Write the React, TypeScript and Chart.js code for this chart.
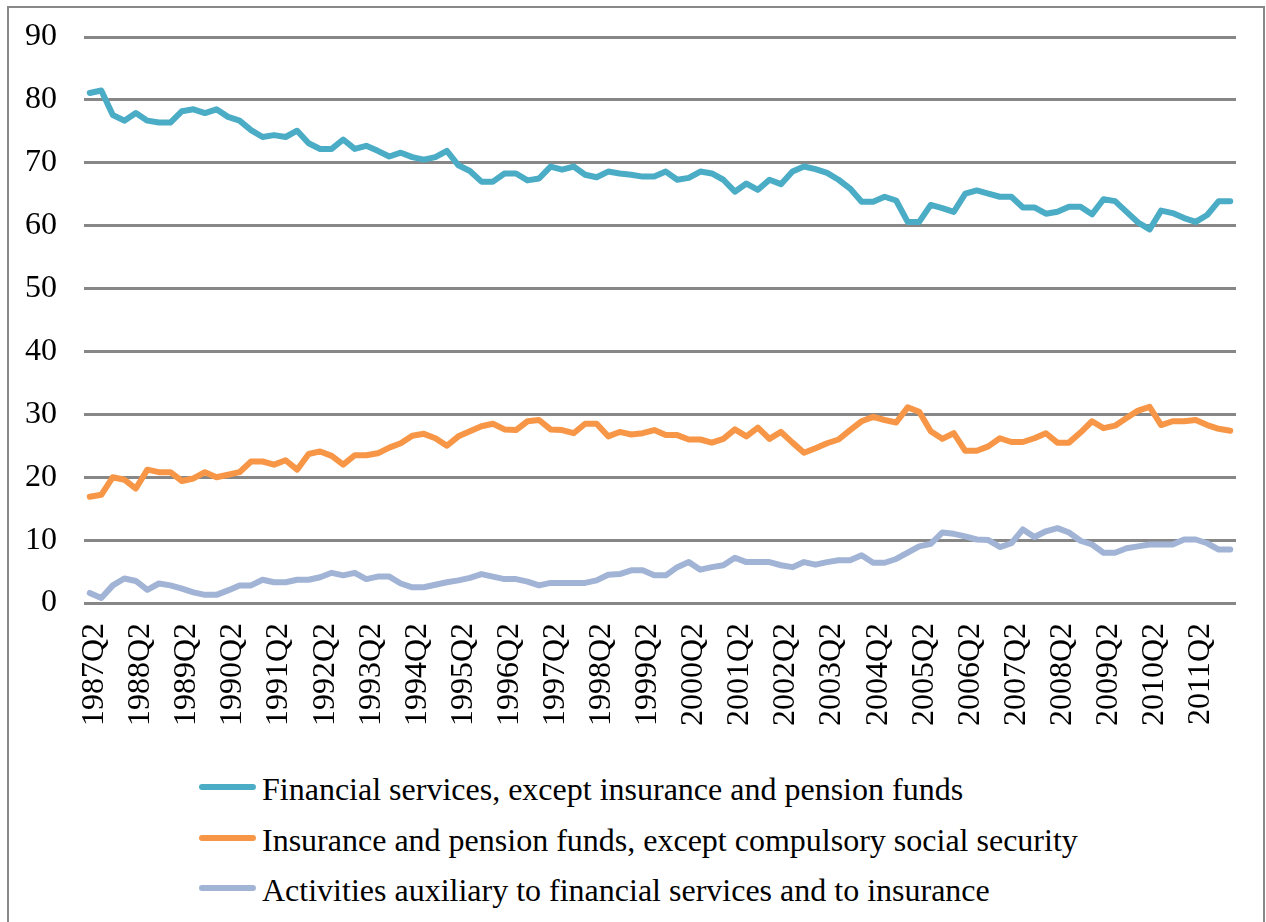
import React, { useEffect, useRef } from "react";
import { Chart, registerables } from "chart.js";

Chart.register(...registerables);

// ---- Data ----
const START_YEAR = 1987;
const START_QUARTER = 2;
const N_QUARTERS = 100;
const categories: string[] = [];
for (let k = 0; k < N_QUARTERS; k++) {
  const q = START_QUARTER - 1 + k;
  categories.push(`${START_YEAR + Math.floor(q / 4)}Q${(q % 4) + 1}`);
}

const seriesNames = [
  "Financial services, except insurance and pension funds",
  "Insurance and pension funds, except compulsory social security",
  "Activities auxiliary to financial services and to insurance",
];

const financialServices = [
  81.1, 81.5, 77.6, 76.7, 77.9, 76.7, 76.4, 76.4, 78.2, 78.5,
  77.9, 78.5, 77.3, 76.7, 75.2, 74.1, 74.4, 74.1, 75.1, 73.1,
  72.2, 72.2, 73.7, 72.2, 72.7, 71.9, 71.0, 71.6, 70.9, 70.5,
  70.9, 71.9, 69.6, 68.7, 67.0, 67.0, 68.3, 68.3, 67.2, 67.5,
  69.4, 68.9, 69.4, 68.1, 67.7, 68.6, 68.3, 68.1, 67.8, 67.8,
  68.6, 67.3, 67.6, 68.6, 68.3, 67.3, 65.4, 66.7, 65.7, 67.3,
  66.6, 68.6, 69.4, 69.0, 68.4, 67.3, 65.9, 63.8, 63.8, 64.6,
  64.0, 60.6, 60.6, 63.3, 62.8, 62.2, 65.1, 65.6, 65.1, 64.6,
  64.6, 62.9, 62.9, 61.9, 62.2, 63.0, 63.0, 61.8, 64.2, 63.9,
  62.2, 60.5, 59.4, 62.4, 62.0, 61.2, 60.6, 61.7, 63.9, 63.9,
];

const insurancePension = [
  16.9, 17.2, 20.0, 19.6, 18.2, 21.2, 20.8, 20.8, 19.4, 19.8,
  20.8, 20.0, 20.4, 20.8, 22.5, 22.5, 22.0, 22.7, 21.2, 23.7,
  24.1, 23.4, 22.0, 23.5, 23.5, 23.8, 24.7, 25.4, 26.6, 26.9,
  26.2, 25.0, 26.5, 27.3, 28.1, 28.5, 27.6, 27.5, 28.9, 29.1,
  27.6, 27.5, 27.0, 28.5, 28.5, 26.5, 27.2, 26.8, 27.0, 27.5,
  26.7, 26.7, 26.0, 26.0, 25.5, 26.1, 27.6, 26.5, 27.9, 26.1,
  27.2, 25.5, 23.9, 24.6, 25.4, 26.0, 27.5, 28.9, 29.6, 29.1,
  28.7, 31.1, 30.4, 27.3, 26.1, 27.0, 24.2, 24.2, 24.9, 26.2,
  25.6, 25.6, 26.2, 27.0, 25.5, 25.5, 27.1, 28.9, 27.8, 28.2,
  29.4, 30.6, 31.2, 28.3, 28.9, 28.9, 29.1, 28.3, 27.7, 27.4,
];

const auxiliaryActivities = [
  1.6, 0.8, 2.8, 3.9, 3.5, 2.1, 3.1, 2.8, 2.3, 1.7,
  1.3, 1.3, 2.0, 2.8, 2.8, 3.7, 3.3, 3.3, 3.7, 3.7,
  4.1, 4.8, 4.4, 4.8, 3.8, 4.2, 4.2, 3.1, 2.5, 2.5,
  2.9, 3.3, 3.6, 4.0, 4.6, 4.2, 3.8, 3.8, 3.4, 2.8,
  3.2, 3.2, 3.2, 3.2, 3.6, 4.5, 4.6, 5.2, 5.2, 4.4,
  4.4, 5.7, 6.5, 5.3, 5.7, 6.0, 7.2, 6.5, 6.5, 6.5,
  6.0, 5.7, 6.5, 6.1, 6.5, 6.8, 6.8, 7.6, 6.4, 6.4,
  7.0, 8.0, 9.0, 9.4, 11.2, 11.0, 10.6, 10.1, 10.0, 8.9,
  9.5, 11.7, 10.5, 11.4, 11.9, 11.2, 9.9, 9.3, 8.0, 8.0,
  8.7, 9.0, 9.3, 9.3, 9.3, 10.1, 10.1, 9.5, 8.5, 8.5,
];

const tickLabels = [
  "1987Q2", "1988Q2", "1989Q2", "1990Q2", "1991Q2", "1992Q2", "1993Q2",
  "1994Q2", "1995Q2", "1996Q2", "1997Q2", "1998Q2", "1999Q2", "2000Q2",
  "2001Q2", "2002Q2", "2003Q2", "2004Q2", "2005Q2", "2006Q2", "2007Q2",
  "2008Q2", "2009Q2", "2010Q2", "2011Q2",
];

const yTicks = [0, 10, 20, 30, 40, 50, 60, 70, 80, 90];

const seriesColors = ["#4BACC6", "#F79646", "#A2B4D5"];

const FONT_FAMILY = "'Liberation Serif', 'Times New Roman', serif";
const FONT_SIZE = 32;

export default function App() {
  const canvasRef = useRef<HTMLCanvasElement | null>(null);

  useEffect(() => {
    const canvas = canvasRef.current;
    if (!canvas) return;
    const allSeries = [financialServices, insurancePension, auxiliaryActivities];
    const chart = new Chart(canvas, {
      type: "line",
      data: {
        labels: categories,
        datasets: allSeries.map((d, i) => ({
          label: seriesNames[i],
          data: d,
          borderColor: seriesColors[i],
          backgroundColor: seriesColors[i],
          borderWidth: 6,
          pointRadius: 0,
          tension: 0,
          borderJoinStyle: "round" as const,
          borderCapStyle: "round" as const,
          fill: false,
        })),
      },
      options: {
        responsive: false,
        animation: false,
        events: [],
        layout: { padding: { top: 37, right: 30, bottom: 17, left: 0 } },
        plugins: {
          legend: { display: false },
          tooltip: { enabled: false },
          title: { display: false },
        },
        scales: {
          x: {
            type: "category",
            offset: true,
            grid: { display: false, drawTicks: false },
            border: { display: false },
            ticks: {
              autoSkip: false,
              minRotation: 90,
              maxRotation: 90,
              padding: 20,
              labelOffset: 5,
              color: "#000",
              font: { family: FONT_FAMILY, size: FONT_SIZE },
              callback: (_v: any, idx: number) => {
                const lbl = categories[idx];
                return tickLabels.includes(lbl) ? lbl : "";
              },
            },
            afterFit: (s: any) => {
              s.height = 130;
              s.paddingLeft = 0;
              s.paddingRight = 0;
              s.paddingTop = 0;
              s.paddingBottom = 0;
            },
          },
          y: {
            min: yTicks[0],
            max: yTicks[yTicks.length - 1],
            grid: { color: "#878787", lineWidth: 3, drawTicks: false },
            border: { display: false },
            ticks: {
              stepSize: 10,
              padding: 27,
              color: "#000",
              font: { family: FONT_FAMILY, size: FONT_SIZE },
            },
            afterFit: (s: any) => {
              s.width = 84;
              s.paddingLeft = 0;
              s.paddingRight = 0;
              s.paddingTop = 0;
              s.paddingBottom = 0;
            },
          },
        },
      },
    });
    return () => chart.destroy();
  }, []);

  const legendTop = 764;
  const rowStep = 50.5;

  return (
    <div>
      <div
        style={{
          position: "absolute",
          left: 7,
          top: 6,
          width: 1258,
          height: 916,
          boxSizing: "border-box",
          border: "2px solid #888888",
          borderBottom: "none",
          background: "#fff",
        }}
      />
      <canvas
        ref={canvasRef}
        width={1266}
        height={750}
        style={{ position: "absolute", left: 0, top: 0, width: 1266, height: 750 }}
      />
      {seriesNames.map((name, i) => (
        <div
          key={name}
          style={{
            position: "absolute",
            left: 199,
            top: legendTop + rowStep * i,
            height: 50,
            whiteSpace: "nowrap",
          }}
        >
          <span
            style={{
              position: "absolute",
              left: 0,
              top: 20,
              width: 57,
              height: 6,
              borderRadius: 3,
              background: seriesColors[i],
            }}
          />
          <span
            style={{
              position: "absolute",
              left: 63,
              top: 0,
              fontFamily: FONT_FAMILY,
              fontSize: FONT_SIZE,
              lineHeight: "50px",
              color: "#000",
            }}
          >
            {name}
          </span>
        </div>
      ))}
    </div>
  );
}
